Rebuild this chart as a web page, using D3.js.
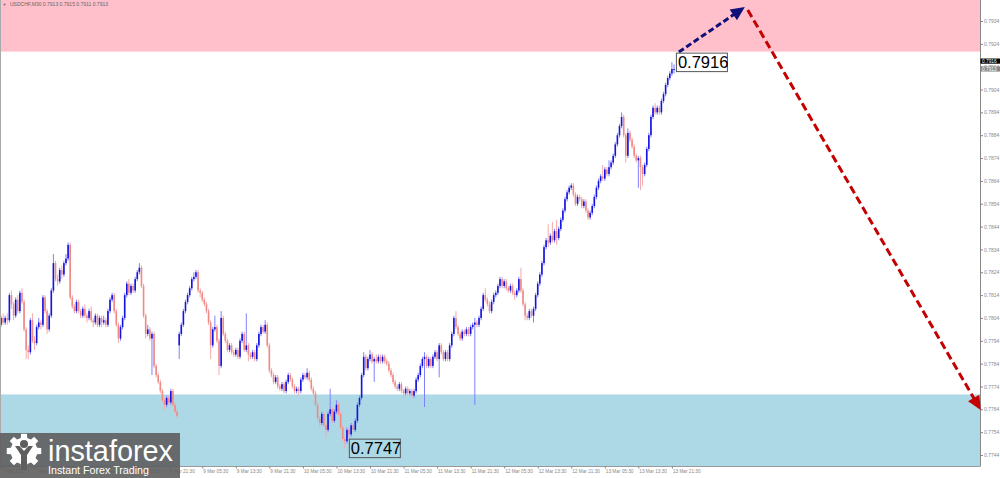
<!DOCTYPE html>
<html><head><meta charset="utf-8">
<script src="https://cdn.jsdelivr.net/npm/d3@7/dist/d3.min.js"></script>
<style>html,body{margin:0;padding:0;background:#fff}svg{display:block}</style>
</head><body>
<svg id="chart" width="1000" height="478"></svg>
<script>
// ---------------- DATA ----------------
const symbolTitle = "USDCHF,M30";
const lastBar = [0.7913, 0.7915, 0.7911, 0.7913];
const opens = [0.7801,0.7804,0.7802,0.7804,0.7803,0.7814,0.7810,0.7805,0.7812,0.7807,0.7815,0.7811,0.7799,0.7790,0.7789,0.7803,0.7794,0.7793,0.7800,0.7802,
0.7801,0.7813,0.7807,0.7799,0.7805,0.7816,0.7828,0.7821,0.7820,0.7825,0.7823,0.7828,0.7830,0.7836,0.7813,0.7809,0.7807,0.7811,0.7807,0.7805,
0.7808,0.7805,0.7804,0.7807,0.7803,0.7802,0.7805,0.7801,0.7804,0.7802,0.7803,0.7801,0.7807,0.7812,0.7814,0.7807,0.7801,0.7795,0.7800,0.7804,
0.7814,0.7819,0.7815,0.7818,0.7816,0.7821,0.7824,0.7826,0.7818,0.7805,0.7797,0.7799,0.7795,0.7797,0.7783,0.7779,0.7776,0.7772,0.7768,0.7766,
0.7769,0.7767,0.7772,0.7766,0.7763,0.7792,0.7797,0.7801,0.7807,0.7811,0.7814,0.7817,0.7821,0.7822,0.7824,0.7816,0.7815,0.7812,0.7810,0.7807,
0.7802,0.7792,0.7799,0.7800,0.7794,0.7783,0.7804,0.7797,0.7794,0.7790,0.7792,0.7789,0.7788,0.7790,0.7787,0.7794,0.7797,0.7790,0.7792,0.7788,
0.7787,0.7789,0.7786,0.7792,0.7797,0.7800,0.7798,0.7801,0.7792,0.7781,0.7779,0.7776,0.7778,0.7774,0.7773,0.7775,0.7772,0.7776,0.7779,0.7777,
0.7774,0.7772,0.7773,0.7772,0.7777,0.7779,0.7778,0.7780,0.7777,0.7773,0.7771,0.7766,0.7760,0.7758,0.7762,0.7757,0.7755,0.7762,0.7764,0.7759,
0.7763,0.7766,0.7762,0.7756,0.7751,0.7750,0.7755,0.7753,0.7757,0.7755,0.7759,0.7766,0.7769,0.7779,0.7787,0.7782,0.7786,0.7788,0.7785,0.7786,
0.7785,0.7787,0.7785,0.7787,0.7785,0.7784,0.7781,0.7779,0.7776,0.7774,0.7773,0.7775,0.7772,0.7771,0.7773,0.7771,0.7772,0.7770,0.7772,0.7777,
0.7779,0.7783,0.7786,0.7787,0.7783,0.7786,0.7783,0.7787,0.7789,0.7786,0.7792,0.7789,0.7786,0.7789,0.7786,0.7792,0.7797,0.7804,0.7800,0.7797,
0.7795,0.7798,0.7797,0.7799,0.7797,0.7800,0.7801,0.7802,0.7801,0.7804,0.7808,0.7814,0.7812,0.7810,0.7807,0.7811,0.7814,0.7815,0.7818,0.7821,
0.7818,0.7820,0.7817,0.7816,0.7818,0.7815,0.7814,0.7816,0.7821,0.7816,0.7810,0.7805,0.7804,0.7807,0.7805,0.7808,0.7814,0.7819,0.7823,0.7828,
0.7835,0.7838,0.7837,0.7840,0.7838,0.7842,0.7839,0.7843,0.7847,0.7851,0.7856,0.7859,0.7861,0.7862,0.7858,0.7854,0.7857,0.7856,0.7853,0.7855,
0.7851,0.7848,0.7850,0.7853,0.7857,0.7861,0.7864,0.7866,0.7865,0.7869,0.7867,0.7870,0.7872,0.7875,0.7880,0.7884,0.7888,0.7892,0.7884,0.7875,
0.7885,0.7882,0.7879,0.7875,0.7873,0.7874,0.7870,0.7867,0.7871,0.7878,0.7884,0.7892,0.7896,0.7894,0.7896,0.7894,0.7899,0.7902,0.7906,0.7909,
0.7911,0.7913];
const highs = [0.7805,0.7806,0.7805,0.7806,0.7815,0.7816,0.7811,0.7813,0.7814,0.7816,0.7817,0.7812,0.7800,0.7792,0.7804,0.7806,0.7796,0.7801,0.7804,0.7803,
0.7814,0.7814,0.7808,0.7806,0.7817,0.7832,0.7829,0.7823,0.7826,0.7827,0.7829,0.7832,0.7837,0.7837,0.7814,0.7810,0.7812,0.7812,0.7808,0.7809,
0.7810,0.7806,0.7808,0.7809,0.7804,0.7806,0.7806,0.7805,0.7805,0.7805,0.7804,0.7808,0.7813,0.7815,0.7815,0.7808,0.7802,0.7801,0.7805,0.7815,
0.7820,0.7821,0.7819,0.7819,0.7822,0.7825,0.7828,0.7827,0.7819,0.7806,0.7801,0.7800,0.7798,0.7798,0.7784,0.7780,0.7777,0.7773,0.7769,0.7770,
0.7770,0.7773,0.7773,0.7767,0.7764,0.7798,0.7802,0.7808,0.7812,0.7815,0.7818,0.7822,0.7824,0.7825,0.7825,0.7817,0.7816,0.7813,0.7811,0.7808,
0.7803,0.7800,0.7805,0.7801,0.7795,0.7807,0.7805,0.7798,0.7795,0.7793,0.7793,0.7790,0.7791,0.7791,0.7795,0.7798,0.7798,0.7806,0.7793,0.7789,
0.7790,0.7790,0.7793,0.7798,0.7801,0.7801,0.7803,0.7802,0.7793,0.7782,0.7780,0.7779,0.7779,0.7775,0.7776,0.7776,0.7777,0.7780,0.7780,0.7778,
0.7775,0.7774,0.7774,0.7778,0.7780,0.7780,0.7782,0.7781,0.7778,0.7774,0.7772,0.7767,0.7761,0.7763,0.7763,0.7758,0.7763,0.7773,0.7765,0.7764,
0.7768,0.7767,0.7763,0.7757,0.7752,0.7756,0.7756,0.7758,0.7758,0.7760,0.7767,0.7770,0.7780,0.7789,0.7788,0.7787,0.7790,0.7789,0.7787,0.7788,
0.7788,0.7788,0.7788,0.7788,0.7786,0.7785,0.7782,0.7780,0.7777,0.7775,0.7776,0.7776,0.7773,0.7774,0.7774,0.7773,0.7773,0.7773,0.7778,0.7780,
0.7784,0.7787,0.7789,0.7788,0.7787,0.7787,0.7788,0.7790,0.7790,0.7793,0.7793,0.7790,0.7790,0.7790,0.7793,0.7798,0.7805,0.7807,0.7801,0.7798,
0.7799,0.7799,0.7800,0.7800,0.7801,0.7802,0.7804,0.7803,0.7805,0.7809,0.7815,0.7817,0.7813,0.7811,0.7812,0.7815,0.7816,0.7819,0.7822,0.7822,
0.7821,0.7821,0.7818,0.7819,0.7819,0.7816,0.7817,0.7822,0.7826,0.7817,0.7811,0.7806,0.7808,0.7808,0.7809,0.7815,0.7820,0.7824,0.7829,0.7836,
0.7839,0.7845,0.7841,0.7846,0.7843,0.7847,0.7844,0.7848,0.7852,0.7857,0.7860,0.7862,0.7863,0.7863,0.7859,0.7858,0.7858,0.7857,0.7856,0.7856,
0.7852,0.7851,0.7854,0.7858,0.7862,0.7865,0.7867,0.7871,0.7870,0.7870,0.7873,0.7873,0.7876,0.7881,0.7885,0.7889,0.7894,0.7893,0.7885,0.7887,
0.7886,0.7883,0.7880,0.7876,0.7875,0.7875,0.7871,0.7872,0.7879,0.7885,0.7893,0.7897,0.7898,0.7897,0.7897,0.7900,0.7903,0.7907,0.7910,0.7912,
0.7916,0.7915];
const lows = [0.7800,0.7801,0.7801,0.7801,0.7802,0.7808,0.7803,0.7804,0.7806,0.7806,0.7810,0.7798,0.7786,0.7786,0.7788,0.7793,0.7790,0.7792,0.7799,0.7799,
0.7800,0.7806,0.7797,0.7798,0.7804,0.7815,0.7820,0.7818,0.7819,0.7821,0.7822,0.7827,0.7829,0.7812,0.7808,0.7806,0.7806,0.7806,0.7804,0.7804,
0.7804,0.7802,0.7803,0.7802,0.7800,0.7801,0.7800,0.7800,0.7800,0.7801,0.7800,0.7800,0.7806,0.7811,0.7806,0.7800,0.7793,0.7794,0.7799,0.7803,
0.7813,0.7814,0.7814,0.7815,0.7815,0.7820,0.7823,0.7817,0.7804,0.7795,0.7796,0.7794,0.7779,0.7782,0.7778,0.7775,0.7771,0.7767,0.7764,0.7765,
0.7766,0.7766,0.7765,0.7762,0.7760,0.7786,0.7796,0.7800,0.7806,0.7810,0.7813,0.7816,0.7820,0.7821,0.7815,0.7813,0.7811,0.7809,0.7806,0.7801,
0.7786,0.7791,0.7798,0.7793,0.7779,0.7782,0.7796,0.7793,0.7789,0.7789,0.7788,0.7787,0.7787,0.7786,0.7786,0.7793,0.7789,0.7789,0.7785,0.7786,
0.7786,0.7785,0.7785,0.7791,0.7796,0.7797,0.7797,0.7791,0.7780,0.7778,0.7775,0.7775,0.7773,0.7772,0.7772,0.7771,0.7771,0.7775,0.7776,0.7773,
0.7771,0.7771,0.7770,0.7771,0.7776,0.7777,0.7777,0.7776,0.7772,0.7770,0.7765,0.7759,0.7756,0.7757,0.7756,0.7752,0.7754,0.7761,0.7758,0.7758,
0.7762,0.7761,0.7755,0.7750,0.7747,0.7749,0.7751,0.7752,0.7754,0.7754,0.7758,0.7765,0.7768,0.7778,0.7781,0.7781,0.7785,0.7784,0.7776,0.7784,
0.7784,0.7784,0.7784,0.7784,0.7783,0.7780,0.7778,0.7775,0.7773,0.7772,0.7772,0.7771,0.7769,0.7770,0.7770,0.7770,0.7769,0.7769,0.7771,0.7776,
0.7778,0.7782,0.7765,0.7782,0.7782,0.7782,0.7782,0.7786,0.7785,0.7778,0.7788,0.7785,0.7785,0.7785,0.7785,0.7791,0.7796,0.7799,0.7796,0.7794,
0.7794,0.7796,0.7796,0.7796,0.7796,0.7799,0.7766,0.7800,0.7800,0.7803,0.7807,0.7811,0.7809,0.7806,0.7806,0.7810,0.7813,0.7814,0.7817,0.7817,
0.7817,0.7816,0.7815,0.7815,0.7814,0.7812,0.7813,0.7815,0.7815,0.7809,0.7803,0.7803,0.7803,0.7804,0.7802,0.7807,0.7813,0.7818,0.7822,0.7827,
0.7834,0.7835,0.7836,0.7837,0.7837,0.7836,0.7838,0.7842,0.7846,0.7850,0.7855,0.7858,0.7860,0.7857,0.7853,0.7853,0.7855,0.7852,0.7852,0.7850,
0.7847,0.7847,0.7849,0.7852,0.7856,0.7860,0.7863,0.7864,0.7864,0.7866,0.7866,0.7869,0.7871,0.7874,0.7879,0.7883,0.7887,0.7883,0.7872,0.7874,
0.7881,0.7878,0.7874,0.7872,0.7861,0.7860,0.7862,0.7866,0.7870,0.7877,0.7883,0.7891,0.7893,0.7893,0.7893,0.7893,0.7898,0.7901,0.7905,0.7908,
0.7910,0.7911];
const closes = [0.7804,0.7802,0.7804,0.7803,0.7814,0.7810,0.7805,0.7812,0.7807,0.7815,0.7811,0.7799,0.7790,0.7789,0.7803,0.7794,0.7793,0.7800,0.7802,0.7801,
0.7813,0.7807,0.7799,0.7805,0.7816,0.7828,0.7821,0.7820,0.7825,0.7823,0.7828,0.7830,0.7836,0.7813,0.7809,0.7807,0.7811,0.7807,0.7805,0.7808,
0.7805,0.7804,0.7807,0.7803,0.7802,0.7805,0.7801,0.7804,0.7802,0.7803,0.7801,0.7807,0.7812,0.7814,0.7807,0.7801,0.7795,0.7800,0.7804,0.7814,
0.7819,0.7815,0.7818,0.7816,0.7821,0.7824,0.7826,0.7818,0.7805,0.7797,0.7799,0.7795,0.7797,0.7783,0.7779,0.7776,0.7772,0.7768,0.7766,0.7769,
0.7767,0.7772,0.7766,0.7763,0.7761,0.7797,0.7801,0.7807,0.7811,0.7814,0.7817,0.7821,0.7822,0.7824,0.7816,0.7815,0.7812,0.7810,0.7807,0.7802,
0.7792,0.7799,0.7800,0.7794,0.7783,0.7804,0.7797,0.7794,0.7790,0.7792,0.7789,0.7788,0.7790,0.7787,0.7794,0.7797,0.7790,0.7792,0.7788,0.7787,
0.7789,0.7786,0.7792,0.7797,0.7800,0.7798,0.7801,0.7792,0.7781,0.7779,0.7776,0.7778,0.7774,0.7773,0.7775,0.7772,0.7776,0.7779,0.7777,0.7774,
0.7772,0.7773,0.7772,0.7777,0.7779,0.7778,0.7780,0.7777,0.7773,0.7771,0.7766,0.7760,0.7758,0.7762,0.7757,0.7755,0.7762,0.7764,0.7759,0.7763,
0.7766,0.7762,0.7756,0.7751,0.7750,0.7755,0.7753,0.7757,0.7755,0.7759,0.7766,0.7769,0.7779,0.7787,0.7782,0.7786,0.7788,0.7785,0.7786,0.7785,
0.7787,0.7785,0.7787,0.7785,0.7784,0.7781,0.7779,0.7776,0.7774,0.7773,0.7775,0.7772,0.7771,0.7773,0.7771,0.7772,0.7770,0.7772,0.7777,0.7779,
0.7783,0.7786,0.7787,0.7783,0.7786,0.7783,0.7787,0.7789,0.7786,0.7792,0.7789,0.7786,0.7789,0.7786,0.7792,0.7797,0.7804,0.7800,0.7797,0.7795,
0.7798,0.7797,0.7799,0.7797,0.7800,0.7801,0.7802,0.7801,0.7804,0.7808,0.7814,0.7812,0.7810,0.7807,0.7811,0.7814,0.7815,0.7818,0.7821,0.7818,
0.7820,0.7817,0.7816,0.7818,0.7815,0.7814,0.7816,0.7821,0.7816,0.7810,0.7805,0.7804,0.7807,0.7805,0.7808,0.7814,0.7819,0.7823,0.7828,0.7835,
0.7838,0.7837,0.7840,0.7838,0.7842,0.7839,0.7843,0.7847,0.7851,0.7856,0.7859,0.7861,0.7862,0.7858,0.7854,0.7857,0.7856,0.7853,0.7855,0.7851,
0.7848,0.7850,0.7853,0.7857,0.7861,0.7864,0.7866,0.7865,0.7869,0.7867,0.7870,0.7872,0.7875,0.7880,0.7884,0.7888,0.7892,0.7884,0.7875,0.7885,
0.7882,0.7879,0.7875,0.7873,0.7874,0.7870,0.7867,0.7871,0.7878,0.7884,0.7892,0.7896,0.7894,0.7896,0.7894,0.7899,0.7902,0.7906,0.7909,0.7911,
0.7913,0.7913];
const timeLabels = ["7 Mar 2022","7 Mar 13:30","7 Mar 21:30","8 Mar 05:30","8 Mar 13:30","8 Mar 21:30","9 Mar 05:30","9 Mar 13:30","9 Mar 21:30",
"10 Mar 05:30","10 Mar 13:30","10 Mar 21:30","11 Mar 05:30","11 Mar 13:30","11 Mar 21:30","12 Mar 05:30","12 Mar 13:30","12 Mar 21:30",
"13 Mar 05:30","13 Mar 13:30","13 Mar 21:30"];
const barsPerLabel = 16;
const priceTicks = [0.7744,0.7754,0.7764,0.7774,0.7784,0.7794,0.7804,0.7814,0.7824,0.7834,0.7844,0.7854,0.7864,0.7874,0.7884,0.7894,0.7904,0.7914,0.7924,0.7934];
const resistanceZone = [0.79206, 0.7944];
const supportZone = [0.77705, 0.7739];
const extremeBars = [320, 164];
const extremePrices = [0.7916, 0.7747];
const priceTags = [0.7916, 0.7913];
const upArrowBars = [323.3, 354.8];
const upArrowPrices = [0.79204, 0.79401];
const downArrowBars = [356.2, 467.3];
const downArrowPrices = [0.79388, 0.77637];

// ---------------- DRAW ----------------
const svg = d3.select("#chart");
const W = 1000, H = 478, plotR = 980, plotB = 466.5;
const x = d3.scaleLinear().domain([0, closes.length - 1]).range([1, 674]);
const y = d3.scaleLinear().domain([0.7744, 0.7934]).range([455, 21]);
const font = "'Liberation Sans', Arial, sans-serif";

svg.append("rect").attr("width", W).attr("height", H).attr("fill", "#fff");
svg.append("defs").append("clipPath").attr("id", "plot")
  .append("rect").attr("x", 0).attr("y", 0).attr("width", plotR).attr("height", plotB);
const plot = svg.append("g").attr("clip-path", "url(#plot)");

// zones
plot.append("rect").attr("x", 0).attr("width", plotR)
  .attr("y", y(resistanceZone[1])).attr("height", y(resistanceZone[0]) - y(resistanceZone[1]))
  .attr("fill", "#ffc0cb");
plot.append("rect").attr("x", 0).attr("width", plotR)
  .attr("y", y(supportZone[0])).attr("height", y(supportZone[1]) - y(supportZone[0]))
  .attr("fill", "#add8e6");

// candles
const bars = d3.range(closes.length).map(i => ({i, o: opens[i], h: highs[i], l: lows[i], c: closes[i]}));
const cg = plot.append("g");
cg.selectAll("line.wick").data(bars).join("line").attr("class", "wick")
  .attr("x1", d => x(d.i)).attr("x2", d => x(d.i))
  .attr("y1", d => y(d.h)).attr("y2", d => y(d.l))
  .attr("stroke", d => d.c >= d.o ? "#8080ff" : "#f5aaaa").attr("stroke-width", 1);
cg.selectAll("rect.body").data(bars).join("rect").attr("class", "body")
  .attr("x", d => x(d.i) - 0.8).attr("width", 1.6)
  .attr("y", d => y(Math.max(d.o, d.c)))
  .attr("height", d => Math.max(1, Math.abs(y(d.o) - y(d.c))))
  .attr("fill", d => d.c >= d.o ? "#1414e0" : "#f08a84");

// borders
svg.append("line").attr("x1", 0.5).attr("x2", 0.5).attr("y1", 0).attr("y2", plotB).attr("stroke", "#aaa");
svg.append("line").attr("x1", 0).attr("x2", plotR).attr("y1", plotB).attr("y2", plotB).attr("stroke", "#999");

// right axis
const yAxis = d3.axisRight(y).tickValues(priceTicks).tickFormat(d3.format(".4f")).tickSize(3).tickPadding(1);
const ya = svg.append("g").attr("transform", `translate(${plotR},0)`).call(yAxis);
ya.select(".domain").remove();
ya.selectAll(".tick line").attr("stroke", "#888");
ya.selectAll(".tick text").attr("fill", "#888").attr("font-family", font).attr("font-size", 5);
svg.append("line").attr("x1", plotR + 0.5).attr("x2", plotR + 0.5).attr("y1", 0).attr("y2", plotB).attr("stroke", "#888");

// bottom axis
const xTicks = timeLabels.map((t, k) => k * barsPerLabel);
const xAxis = d3.axisBottom(x).tickValues(xTicks).tickFormat((d, k) => timeLabels[k]).tickSize(2).tickPadding(1.5);
const xa = svg.append("g").attr("transform", `translate(0,${plotB})`).call(xAxis);
xa.select(".domain").remove();
xa.selectAll(".tick line").attr("stroke", "#888");
xa.selectAll(".tick text").attr("fill", "#888").attr("font-family", font).attr("font-size", 4.7)
  .attr("text-anchor", "start").attr("dx", 0.5);

// price tags
const tagFill = ["#000", "#888"];
priceTags.forEach((p, k) => {
  const cy = y(p) - (k === 0 ? 1 : 0);
  svg.append("rect").attr("x", plotR + 0.5).attr("y", cy - 2.6).attr("width", 19.5).attr("height", 5.2).attr("fill", tagFill[k]);
  svg.append("text").attr("x", plotR + 2).attr("y", cy + 1.8).attr("fill", "#fff")
    .attr("font-family", font).attr("font-size", 4.8).text(d3.format(".4f")(p));
});

// title
svg.append("text").attr("x", 2.5).attr("y", 6.3).attr("fill", "#666").attr("font-family", font).attr("font-size", 4).text("\u25BC");
svg.append("text").attr("x", 10).attr("y", 6.3).attr("fill", "#666").attr("font-family", font).attr("font-size", 5.3)
  .attr("textLength", 98).attr("lengthAdjust", "spacingAndGlyphs")
  .text(`${symbolTitle}  ${lastBar.map(d3.format(".4f")).join(" ")}`);

// wave arrows
function arrow(bx, pr, color, dash) {
  const p0 = [x(bx[0]), y(pr[0])], p1 = [x(bx[1]), y(pr[1])];
  const dx = p1[0] - p0[0], dy = p1[1] - p0[1], L = Math.hypot(dx, dy);
  const ux = dx / L, uy = dy / L, hl = 14, hw = 6.5;
  const base = [p1[0] - ux * hl, p1[1] - uy * hl];
  svg.append("line").attr("x1", p0[0]).attr("y1", p0[1]).attr("x2", base[0] + ux * 2).attr("y2", base[1] + uy * 2)
    .attr("stroke", color).attr("stroke-width", 3).attr("stroke-dasharray", dash);
  svg.append("path").attr("d", d3.line()([p1, [base[0] - uy * hw, base[1] + ux * hw], [base[0] + uy * hw, base[1] - ux * hw]]) + "Z")
    .attr("fill", color);
}
arrow(upArrowBars, upArrowPrices, "#10107a", "6,3");
arrow(downArrowBars, downArrowPrices, "#c40000", "8,4");

// extreme labels
extremeBars.forEach((b, k) => {
  const bx = x(b) + 4, cy = y(extremePrices[k]);
  svg.append("rect").attr("x", bx + 0.5).attr("y", cy - 9).attr("width", 51).attr("height", 18.5)
    .attr("fill", "none").attr("stroke", "#555").attr("stroke-width", 1);
  svg.append("text").attr("x", bx + 2).attr("y", cy + 6).attr("fill", "#000")
    .attr("font-family", font).attr("font-size", 16.5).text(d3.format(".4f")(extremePrices[k]));
});

// logo
const logo = svg.append("g");
logo.append("rect").attr("x", 0).attr("y", 433).attr("width", 180).attr("height", 45).attr("fill", "#5e5e5e").attr("opacity", 0.9);
const gc = [24, 451], nT = 8, rO = 17.5, rI = 13.5;
const gearPts = [];
for (let k = 0; k < nT; k++) {
  const a = k * 2 * Math.PI / nT;
  [-0.24, -0.17, 0.17, 0.24].forEach((o, j) => {
    const r = (j === 0 || j === 3) ? rI : rO;
    gearPts.push([gc[0] + r * Math.cos(a + o), gc[1] + r * Math.sin(a + o)]);
  });
}
logo.append("path").attr("d", d3.line()(gearPts) + "Z").attr("fill", "#fff");
logo.append("circle").attr("cx", gc[0]).attr("cy", gc[1] - 7).attr("r", 4).attr("fill", "#5e5e5e");
logo.append("path").attr("d", d3.line()([[15, 446], [19.5, 446], [24, 451], [28.5, 446], [33, 446], [27, 455], [27, 470], [21, 470], [21, 455]]) + "Z")
  .attr("fill", "#5e5e5e");
logo.append("text").attr("x", 48).attr("y", 461).attr("fill", "#fff").attr("font-family", font).attr("font-size", 30)
  .attr("textLength", 125).attr("lengthAdjust", "spacingAndGlyphs").text("instaforex");
logo.append("text").attr("x", 48).attr("y", 474).attr("fill", "#fff").attr("font-family", font).attr("font-size", 11.5)
  .attr("textLength", 101).attr("lengthAdjust", "spacingAndGlyphs").text("Instant Forex Trading");
</script>
</body></html>
